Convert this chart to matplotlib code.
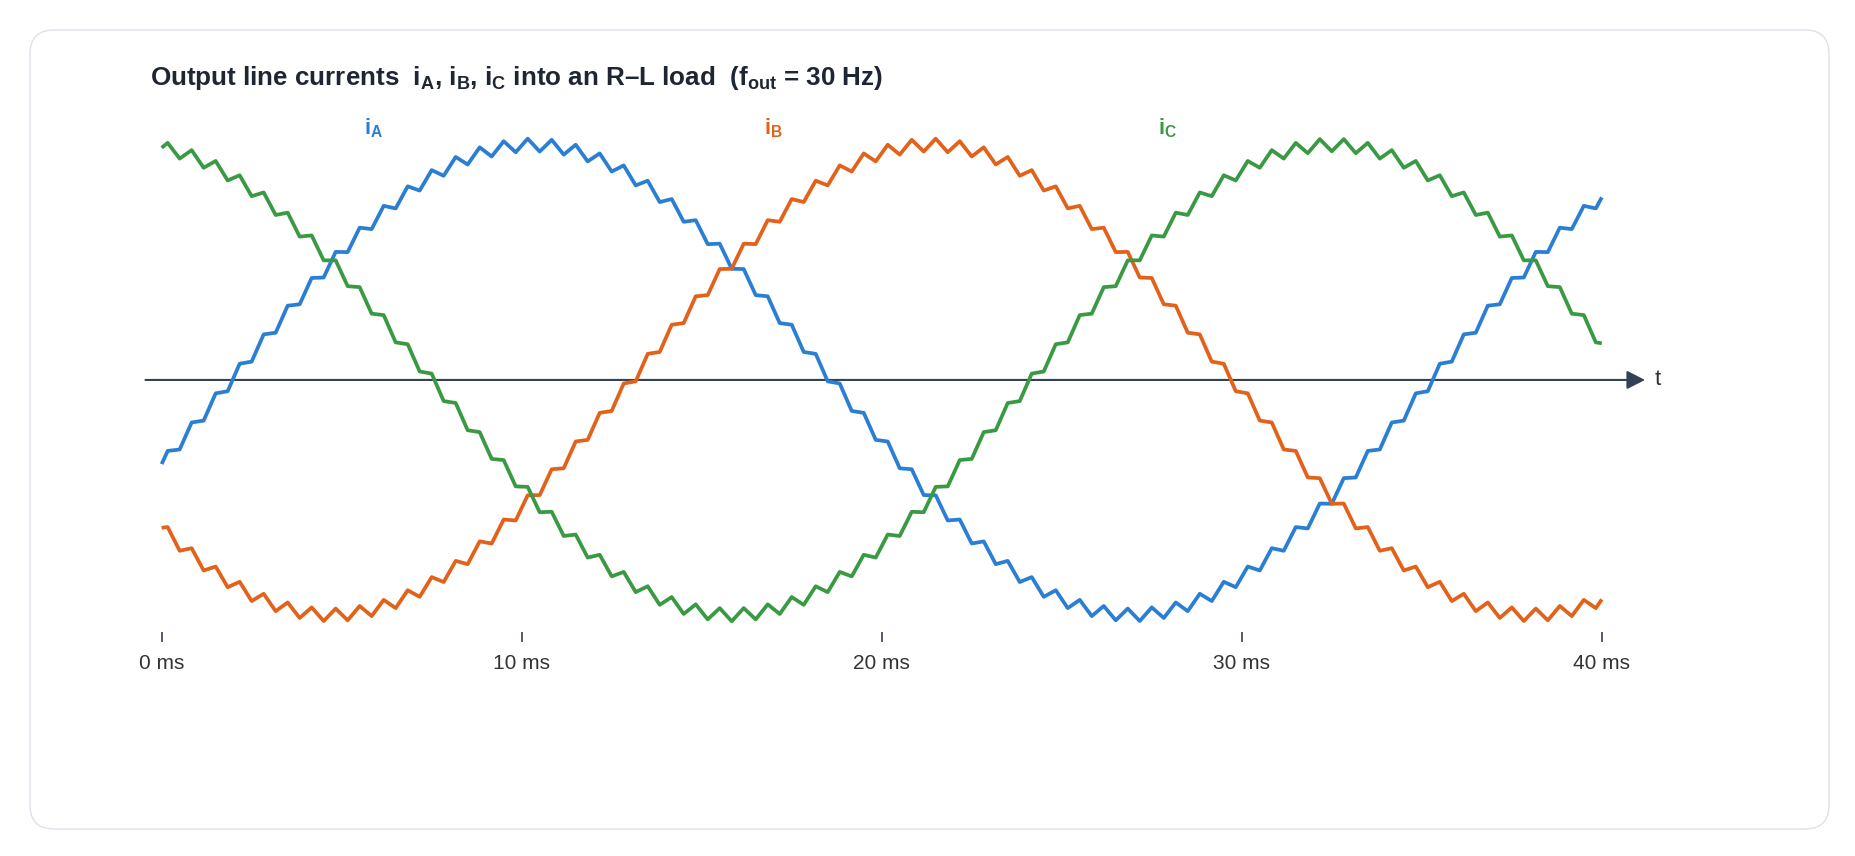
import numpy as np
import matplotlib
matplotlib.use("Agg")
import matplotlib.pyplot as plt
from matplotlib.patches import FancyBboxPatch
from matplotlib.transforms import IdentityTransform

plt.rcParams['font.family'] = ['Liberation Sans', 'DejaVu Sans']
plt.rcParams['mathtext.fontset'] = 'custom'
plt.rcParams['mathtext.rm'] = 'Liberation Sans'
plt.rcParams['mathtext.bf'] = 'Liberation Sans:bold'
plt.rcParams['mathtext.it'] = 'Liberation Sans:italic'

# sample instants: start, every ripple vertex (1.5 kHz ripple), end  [ms]
t_ms = np.r_[0.0, np.arange(1, 240, 2) / 6.0, 40.0]

# line currents (per unit of peak)
i_a = [-0.358,
       -0.302, -0.296, -0.181, -0.173, -0.057, -0.048, 0.069, 0.078, 0.194, 0.201,
       0.316, 0.322, 0.434, 0.436, 0.545, 0.544, 0.648, 0.642, 0.741, 0.730,
       0.824, 0.806, 0.893, 0.869, 0.949, 0.917, 0.990, 0.951, 1.016, 0.969,
       1.027, 0.972, 1.022, 0.959, 1.001, 0.930, 0.964, 0.887, 0.913, 0.828,
       0.848, 0.757, 0.770, 0.673, 0.680, 0.578, 0.580, 0.473, 0.472, 0.361,
       0.356, 0.242, 0.235, 0.119, 0.111, -0.006, -0.015, -0.132, -0.140, -0.255,
       -0.262, -0.376, -0.380, -0.490, -0.491, -0.598, -0.594, -0.696, -0.687, -0.784,
       -0.770, -0.860, -0.839, -0.923, -0.895, -0.971, -0.936, -1.005, -0.962, -1.023,
       -0.973, -1.026, -0.968, -1.013, -0.947, -0.984, -0.910, -0.941, -0.859, -0.882,
       -0.794, -0.811, -0.716, -0.727, -0.626, -0.632, -0.526, -0.527, -0.418, -0.415,
       -0.302, -0.296, -0.181, -0.173, -0.057, -0.048, 0.069, 0.078, 0.194, 0.201,
       0.316, 0.322, 0.434, 0.436, 0.545, 0.544, 0.648, 0.642, 0.741, 0.730,
       0.777]

i_b = [-0.629,
       -0.626, -0.727, -0.716, -0.811, -0.794, -0.882, -0.859, -0.941, -0.910, -0.984,
       -0.947, -1.013, -0.968, -1.026, -0.973, -1.023, -0.962, -1.005, -0.936, -0.971,
       -0.895, -0.923, -0.839, -0.860, -0.770, -0.784, -0.687, -0.696, -0.594, -0.598,
       -0.491, -0.490, -0.380, -0.376, -0.262, -0.255, -0.140, -0.132, -0.015, -0.006,
       0.111, 0.119, 0.235, 0.242, 0.356, 0.361, 0.472, 0.473, 0.580, 0.578,
       0.680, 0.673, 0.770, 0.757, 0.848, 0.828, 0.913, 0.887, 0.964, 0.930,
       1.001, 0.959, 1.022, 0.972, 1.027, 0.969, 1.016, 0.951, 0.990, 0.917,
       0.949, 0.869, 0.893, 0.806, 0.824, 0.730, 0.741, 0.642, 0.648, 0.544,
       0.545, 0.436, 0.434, 0.322, 0.316, 0.201, 0.194, 0.078, 0.069, -0.048,
       -0.057, -0.173, -0.181, -0.296, -0.302, -0.415, -0.418, -0.527, -0.526, -0.632,
       -0.626, -0.727, -0.716, -0.811, -0.794, -0.882, -0.859, -0.941, -0.910, -0.984,
       -0.947, -1.013, -0.968, -1.026, -0.973, -1.023, -0.962, -1.005, -0.936, -0.971,
       -0.934]

i_c = [0.988,
       1.009, 0.942, 0.978, 0.903, 0.932, 0.849, 0.871, 0.782, 0.798, 0.702,
       0.712, 0.610, 0.615, 0.509, 0.509, 0.399, 0.395, 0.282, 0.276, 0.160,
       0.152, 0.036, 0.027, -0.090, -0.098, -0.214, -0.222, -0.336, -0.341, -0.453,
       -0.455, -0.563, -0.561, -0.664, -0.658, -0.756, -0.744, -0.836, -0.817, -0.903,
       -0.878, -0.957, -0.924, -0.996, -0.955, -1.019, -0.971, -1.027, -0.971, -1.019,
       -0.955, -0.996, -0.924, -0.957, -0.878, -0.903, -0.817, -0.836, -0.744, -0.756,
       -0.658, -0.664, -0.561, -0.563, -0.455, -0.453, -0.341, -0.336, -0.222, -0.214,
       -0.098, -0.090, 0.027, 0.036, 0.152, 0.160, 0.276, 0.282, 0.395, 0.399,
       0.509, 0.509, 0.615, 0.610, 0.712, 0.702, 0.798, 0.782, 0.871, 0.849,
       0.932, 0.903, 0.978, 0.942, 1.009, 0.965, 1.025, 0.973, 1.025, 0.965,
       1.009, 0.942, 0.978, 0.903, 0.932, 0.849, 0.871, 0.782, 0.798, 0.702,
       0.712, 0.610, 0.615, 0.509, 0.509, 0.399, 0.395, 0.282, 0.276, 0.160,
       0.156]

tick_ms = [0, 10, 20, 30, 40]
tick_labels = ['0 ms', '10 ms', '20 ms', '30 ms', '40 ms']

series = [
    (i_a, r'$\mathbf{i_A}$', '#2a7fd4', 5.9),
    (i_b, r'$\mathbf{i_B}$', '#e3621b', 17.0),
    (i_c, r'$\mathbf{i_C}$', '#3a9a44', 27.95),
]
axis_col = '#344154'

fig = plt.figure(figsize=(18.56, 8.56), dpi=100)
ax = fig.add_axes([0, 0, 1, 1])
# 36 px per ms, t=0 at x=162 px; 235 px per unit, zero line at y=380 px
ax.set_xlim(-4.49, 47.06)
ax.set_ylim(-2.026, 1.617)
ax.axis('off')

# card outline
card = FancyBboxPatch((30, 27), 1799, 799, boxstyle='round,pad=0,rounding_size=24',
                      transform=IdentityTransform(), facecolor='white',
                      edgecolor='#dfe1ea', linewidth=1.0, zorder=0, clip_on=False)
ax.add_patch(card)

# time axis with arrow
ax.annotate('', xy=(41.2, 0), xytext=(-0.45, 0),
            arrowprops=dict(arrowstyle='-|>,head_length=0.55,head_width=0.28',
                            mutation_scale=20, color=axis_col, lw=1.5,
                            shrinkA=0, shrinkB=0), zorder=2)
ax.text(41.55, 0, 't', fontsize=16, color='#333333', ha='center', va='center')

ax.vlines(tick_ms, -1.114, -1.071, color=axis_col, lw=1.2)
for tm, lab in zip(tick_ms, tick_labels):
    ax.text(tm, -1.205, lab, fontsize=15, color='#333333', ha='center', va='center')

for vals, lab, col, lx in series:
    ax.plot(t_ms, vals, color=col, lw=2.7, solid_joinstyle='round',
            solid_capstyle='butt', zorder=3)
    ax.text(lx, 1.072, lab, fontsize=16, color=col, ha='center', va='center')

fig.text(150 / 1856, 1 - 78 / 856,
         r'Output line currents  $\mathbf{i_A}$, $\mathbf{i_B}$, $\mathbf{i_C}$ into an R–L load  ($\mathbf{f_{out}}$ = 30 Hz)',
         fontsize=18.7, fontweight='bold', color='#1f2633', ha='left', va='center')

fig.savefig('out.png', dpi=100, facecolor='white')
